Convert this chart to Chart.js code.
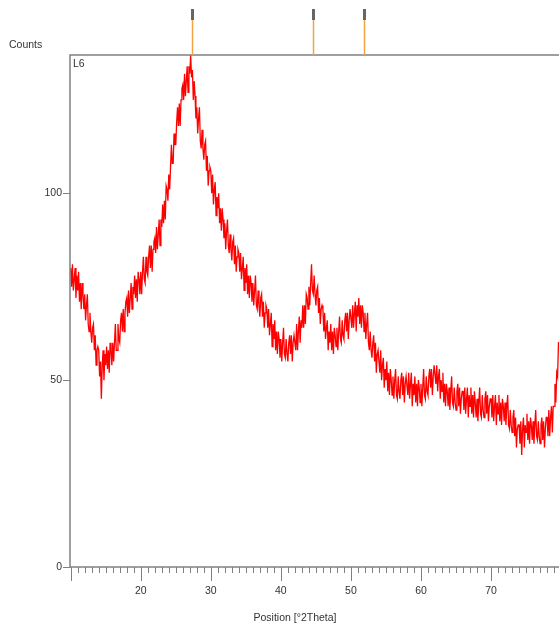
<!DOCTYPE html>
<html>
<head>
<meta charset="utf-8">
<script src="https://cdn.jsdelivr.net/npm/chart.js@4/dist/chart.umd.min.js"></script>
<style>
    html, body { margin: 0; padding: 0; background: #fff; overflow: hidden; }
    #wrap { width: 559px; height: 627px; position: relative; }
</style>
</head>
<body>
<div id="wrap"><canvas id="xrd" width="559" height="627"></canvas></div>
<script>
( function () {
    'use strict';

    // scan grid: start angle and step in degrees 2Theta
    var startAngle = 10;
    var stepAngle = 0.125;

    // counts, one row = 1 degree
    var counts = [
        80, 75, 81, 74, 77, 80, 72, 78,
        74, 79, 71, 76, 69, 76, 73, 69,
        73, 66, 70, 73, 65, 63, 68, 63,
        60, 64, 65, 58, 62, 54, 58, 59,
        58, 51, 55, 45, 54, 58, 50, 57,
        54, 59, 53, 58, 52, 60, 58, 54,
        60, 55, 60, 65, 58, 58, 65, 61,
        60, 66, 68, 63, 69, 63, 68, 71,
        72, 67, 74, 68, 72, 76, 69, 75,
        73, 78, 72, 77, 71, 79, 77, 73,
        79, 73, 79, 83, 77, 76, 83, 79,
        78, 83, 86, 80, 86, 79, 85, 87,
        88, 84, 91, 85, 89, 93, 86, 93,
        91, 97, 92, 98, 93, 102, 101, 98,
        105, 101, 107, 113, 108, 108, 116, 113,
        113, 119, 123, 118, 124, 118, 125, 128,
        129, 125, 132, 126, 130, 134, 127, 134,
        132, 137, 131, 133, 125, 130, 126, 120,
        123, 116, 120, 123, 114, 112, 117, 112,
        109, 113, 114, 106, 110, 102, 106, 107,
        106, 100, 105, 97, 101, 103, 94, 99,
        96, 100, 92, 96, 90, 96, 93, 88,
        92, 85, 90, 93, 86, 84, 89, 85,
        82, 87, 88, 81, 86, 79, 83, 85,
        84, 79, 84, 77, 80, 83, 74, 80,
        76, 81, 73, 78, 72, 78, 76, 71,
        76, 70, 74, 78, 70, 69, 74, 70,
        67, 72, 73, 67, 71, 64, 68, 70,
        69, 64, 69, 62, 65, 68, 59, 65,
        61, 66, 58, 63, 57, 63, 61, 56,
        61, 55, 60, 64, 57, 56, 61, 57,
        55, 60, 62, 57, 62, 55, 60, 62,
        62, 58, 65, 58, 63, 67, 60, 66,
        64, 70, 64, 70, 65, 73, 72, 69,
        75, 70, 76, 81, 74, 73, 78, 73,
        70, 74, 75, 68, 72, 65, 69, 70,
        69, 63, 68, 61, 64, 66, 58, 63,
        60, 65, 58, 63, 57, 64, 62, 59,
        64, 58, 63, 67, 61, 60, 66, 62,
        61, 66, 68, 63, 68, 61, 66, 69,
        69, 64, 70, 64, 68, 71, 63, 70,
        67, 72, 65, 70, 64, 70, 68, 63,
        68, 61, 65, 68, 60, 58, 63, 58,
        56, 60, 62, 55, 60, 52, 57, 58,
        58, 52, 58, 50, 54, 56, 48, 53,
        50, 55, 47, 52, 46, 53, 50, 46,
        51, 45, 50, 53, 46, 45, 51, 47,
        45, 50, 52, 46, 51, 44, 49, 51,
        51, 46, 52, 45, 49, 52, 43, 49,
        46, 51, 44, 49, 43, 50, 48, 44,
        49, 43, 48, 53, 46, 45, 51, 47,
        46, 51, 53, 48, 53, 46, 51, 54,
        54, 49, 54, 47, 51, 53, 45, 50,
        47, 52, 44, 49, 43, 49, 47, 43,
        48, 42, 47, 51, 44, 43, 48, 44,
        42, 47, 49, 43, 48, 41, 45, 47,
        47, 42, 48, 41, 45, 48, 40, 46,
        43, 48, 41, 46, 40, 47, 44, 40,
        45, 39, 44, 48, 41, 40, 46, 42,
        40, 45, 47, 41, 46, 39, 43, 45,
        45, 40, 46, 39, 43, 46, 38, 44,
        41, 46, 39, 44, 38, 45, 43, 39,
        44, 38, 43, 46, 38, 37, 42, 38,
        36, 40, 42, 35, 40, 32, 37, 38,
        38, 33, 39, 30, 37, 40, 32, 38,
        36, 41, 34, 39, 33, 40, 38, 34,
        39, 33, 38, 42, 35, 34, 39, 35,
        33, 38, 40, 34, 39, 32, 37, 40,
        40, 35, 42, 35, 40, 43, 36, 43,
        43, 49, 44, 52, 51, 60, 60, 57
    ];

    // reference pattern lines shown above the plot
    var refPeaks = [ 27.3, 44.6, 51.9 ];

    var xTicks = [ 20, 30, 40, 50, 60, 70 ];
    var yTicks = [ 0, 50, 100 ];

    var sampleName = 'L6';
    var yTitle = 'Counts';
    var xTitle = 'Position [°2Theta]';

    var points = counts.map( function ( c, i ) {
        return { x: startAngle + i * stepAngle, y: c };
    } );

    var axisColor = '#808080';
    var textColor = '#333333';
    var font = '10.5px "Liberation Sans", Arial, sans-serif';

    var framePlugin = {
        id: 'xrdFrame',
        afterDatasetsDraw: function ( chart ) {
            var ctx = chart.ctx;
            var area = chart.chartArea;
            var xs = chart.scales.x;
            var ys = chart.scales.y;

            ctx.save();
            ctx.strokeStyle = axisColor;
            ctx.lineWidth = 1.5;

            // frame: top, left, bottom
            ctx.beginPath();
            ctx.moveTo( chart.width, area.top );
            ctx.lineTo( area.left, area.top );
            ctx.lineTo( area.left, area.bottom );
            ctx.lineTo( chart.width, area.bottom );
            ctx.stroke();

            // x ticks, minor every degree
            ctx.lineWidth = 1;
            ctx.beginPath();
            for ( var d = Math.ceil( xs.min ); d <= xs.max; d++ ) {
                var px = Math.round( xs.getPixelForValue( d ) ) + 0.5;
                var len = ( d % 10 === 0 ) ? 14 : 6;
                ctx.moveTo( px, area.bottom );
                ctx.lineTo( px, area.bottom + len );
            }
            ctx.stroke();

            ctx.fillStyle = textColor;
            ctx.font = font;
            ctx.textAlign = 'center';
            ctx.textBaseline = 'middle';
            xTicks.forEach( function ( v ) {
                ctx.fillText( String( v ), xs.getPixelForValue( v ), area.bottom + 24 );
            } );

            // y ticks
            ctx.strokeStyle = axisColor;
            ctx.beginPath();
            yTicks.forEach( function ( v ) {
                var py = Math.round( ys.getPixelForValue( v ) ) + 0.5;
                ctx.moveTo( area.left - 7, py );
                ctx.lineTo( area.left, py );
            } );
            ctx.stroke();
            ctx.textAlign = 'right';
            yTicks.forEach( function ( v ) {
                ctx.fillText( String( v ), area.left - 8, ys.getPixelForValue( v ) );
            } );

            // titles
            ctx.textAlign = 'left';
            ctx.fillText( yTitle, 9, area.top - 10 );
            ctx.fillText( sampleName, area.left + 3, area.top + 9 );
            ctx.textAlign = 'center';
            ctx.fillText( xTitle, 295, area.bottom + 51 );

            // reference peak markers
            refPeaks.forEach( function ( v ) {
                var px = Math.round( xs.getPixelForValue( v ) ) + 0.5;
                ctx.strokeStyle = '#f2a445';
                ctx.lineWidth = 1.5;
                ctx.beginPath();
                ctx.moveTo( px, 20 );
                ctx.lineTo( px, area.top );
                ctx.stroke();
                ctx.fillStyle = '#666666';
                ctx.fillRect( px - 1.5, 9, 3, 11 );
            } );

            ctx.restore();
        }
    };

    new Chart( document.getElementById( 'xrd' ), {
        type: 'line',
        data: {
            datasets: [ {
                label: sampleName,
                data: points,
                borderColor: '#ff0000',
                borderWidth: 1.3,
                pointRadius: 0,
                tension: 0,
                fill: false
            } ]
        },
        options: {
            responsive: false,
            animation: false,
            layout: { padding: { left: 70, top: 55, right: 0, bottom: 60 } },
            plugins: {
                legend: { display: false },
                tooltip: { enabled: false }
            },
            scales: {
                x: { type: 'linear', min: 9.9, max: 79.7, display: false },
                y: { type: 'linear', min: 0, max: 137, display: false }
            }
        },
        plugins: [ framePlugin ]
    } );
} )();
</script>
</body>
</html>
